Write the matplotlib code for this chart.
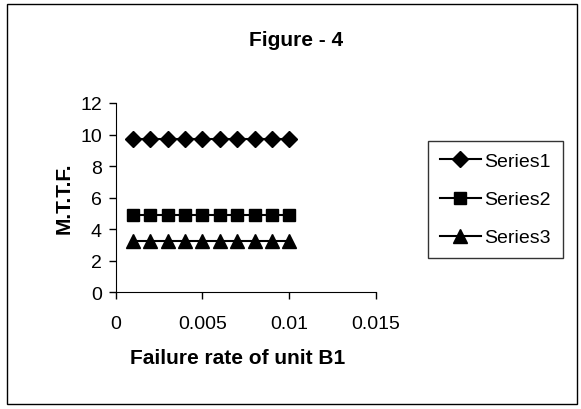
import matplotlib
matplotlib.use("Agg")
import matplotlib.pyplot as plt
from matplotlib.patches import Rectangle

plt.rcParams['font.family'] = ['Liberation Sans', 'DejaVu Sans']

# failure rate of unit B1
x = [0.001, 0.002, 0.003, 0.004, 0.005, 0.006, 0.007, 0.008, 0.009, 0.01]
series1 = [9.7] * 10
series2 = [4.92] * 10
series3 = [3.23] * 10
labels = ["Series1", "Series2", "Series3"]

W, H = 581, 410
fig = plt.figure(figsize=(W / 100, H / 100), dpi=100)
ax = fig.add_axes([115.7 / W, 1 - 293.3 / H, (376 - 115.7) / W, (293.3 - 104) / H])

ax.plot(x, series1, color="black", marker="D", markersize=8.5, lw=1.5, label=labels[0])
ax.plot(x, series2, color="black", marker="s", markersize=9, lw=1.5, label=labels[1])
ax.plot(x, series3, color="black", marker="^", markersize=9.5, lw=1.5, label=labels[2])

ax.set_xlim(0, 0.015)
ax.set_ylim(0, 12)
ax.set_xticks([0, 0.005, 0.01, 0.015])
ax.set_xticklabels(["0", "0.005", "0.01", "0.015"])
ax.set_yticks(range(0, 13, 2))
ax.tick_params(labelsize=14, direction="out", length=5, width=1, pad=5)
ax.tick_params(axis="x", pad=11)
ax.spines["top"].set_visible(False)
ax.spines["right"].set_visible(False)

fig.text(296 / W, 1 - 40 / H, "Figure - 4", ha="center", va="center", fontsize=15, fontweight="bold")
fig.text(238 / W, 1 - 359 / H, "Failure rate of unit B1", ha="center", va="center", fontsize=15, fontweight="bold")
fig.text(64 / W, 1 - 198 / H, "M.T.T.F.", ha="center", va="center", rotation=90, fontsize=15, fontweight="bold")

leg = ax.legend(loc="upper left", bbox_to_anchor=(428 / W, 1 - 142 / H), bbox_transform=fig.transFigure,
                frameon=True, fancybox=False, edgecolor="black", fontsize=14, handlelength=2.1,
                borderaxespad=0, labelspacing=1.05, handletextpad=0.2, borderpad=0.6)
leg.get_frame().set_linewidth(1)

fig.patches.append(Rectangle((7 / W, 5 / H), 570 / W, 400 / H, transform=fig.transFigure,
                             fill=False, edgecolor="black", lw=1))

fig.savefig("out.png", dpi=100)
plt.close()
